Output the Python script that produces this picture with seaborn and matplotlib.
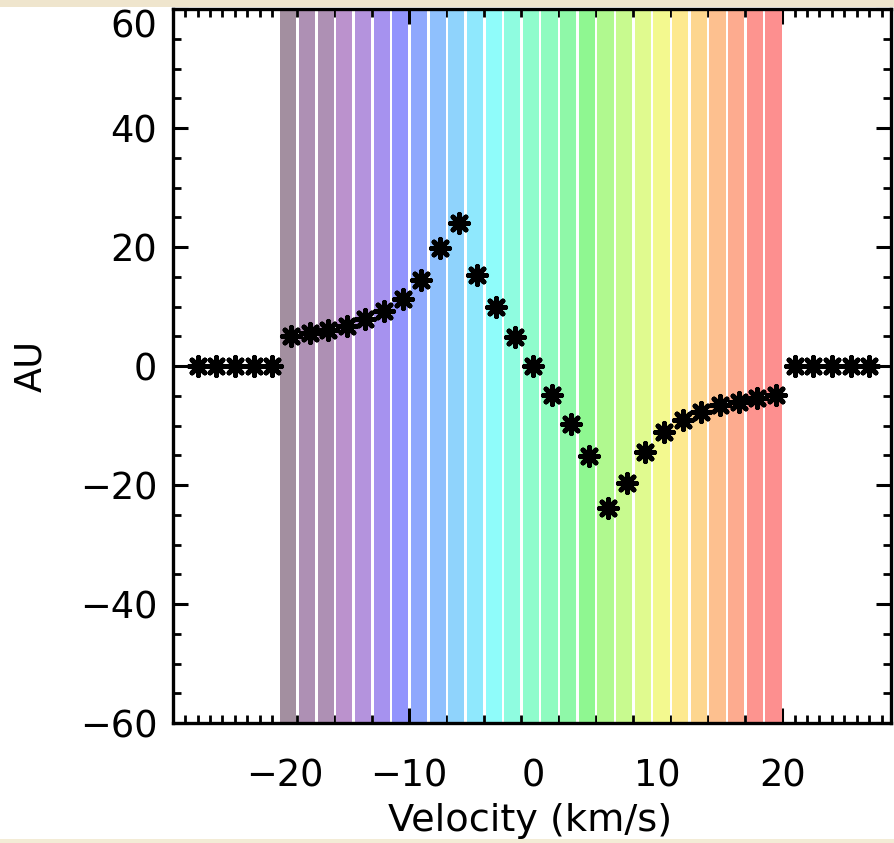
import numpy as np
import pandas as pd
import matplotlib
matplotlib.use("Agg")
import matplotlib.pyplot as plt
from matplotlib.ticker import MultipleLocator, FixedLocator
from matplotlib.patches import Rectangle
import seaborn as sns

# Channel velocities (km/s) and offsets (AU)
vel_outer_left = [-27.0, -25.5, -24.0, -22.5, -21.0]
vel_outer_right = [21.0, 22.5, 24.0, 25.5, 27.0]
vel_channels = [-19.5, -18.0, -16.5, -15.0, -13.5, -12.0, -10.5, -9.0, -7.5, -6.0,
                -4.5, -3.0, -1.5, 0.0, 1.5, 3.0, 4.5,
                6.0, 7.5, 9.0, 10.5, 12.0, 13.5, 15.0, 16.5, 18.0, 19.5]
au_channels = [5.0, 5.5, 6.0, 6.7, 7.9, 9.2, 11.3, 14.5, 19.8, 24.1,
               15.3, 10.0, 4.9, 0.0, -4.8, -9.8, -15.2,
               -23.9, -19.7, -14.4, -11.1, -9.0, -7.8, -6.6, -6.0, -5.3, -4.9]
au_outer = [0.0, 0.0, 0.0, 0.0, 0.0]

x_ticks = [-20, -10, 0, 10, 20]
y_ticks = [-60, -40, -20, 0, 20, 40, 60]

# Pale rainbow colours for the velocity channels
band_colors = ["#a38fa0", "#ae90b4", "#ae90b4", "#bb92cd", "#b493dd", "#a692ef",
               "#9294fd", "#8fa8fd", "#8fc0fd", "#8fd3fc", "#8fe8fd", "#8ffcfa",
               "#8ffce0", "#8ffccc", "#8ffbc0", "#8ff8a8", "#8ff791", "#b0f98f",
               "#c8fa8f", "#e0fa8f", "#f3f98f", "#fde98f", "#fdd68f", "#fdc08f",
               "#fdab8f", "#fd948f", "#fd8f8f"]

points = pd.DataFrame({
    "velocity": vel_outer_left + vel_channels + vel_outer_right,
    "au": au_outer + au_channels + au_outer,
})

sns.set_style("ticks")
plt.rcParams["font.family"] = ["DejaVu Sans"]
plt.rcParams["text.color"] = "black"
plt.rcParams["axes.labelcolor"] = "black"
plt.rcParams["xtick.color"] = "black"
plt.rcParams["ytick.color"] = "black"

W, H = 894, 843
fig = plt.figure(figsize=(W / 100, H / 100), dpi=100)
fig.patch.set_facecolor("white")

ax_l, ax_r, ax_t, ax_b = 172.7, 891.0, 9.0, 723.0
ax = fig.add_axes([ax_l / W, (H - ax_b) / H, (ax_r - ax_l) / W, (ax_b - ax_t) / H])

# Channel bands spanning the full height
ax.bar(np.array(vel_channels) - 0.2, height=120, bottom=-60, width=1.3,
       color=band_colors, linewidth=0, zorder=1)

sns.scatterplot(data=points, x="velocity", y="au", ax=ax,
                marker=(8, 2, 0), s=170, color="black", edgecolor="black",
                linewidth=3.6, zorder=3, legend=False)

ax.set_xlim(-29, 28.75)
ax.set_ylim(-60, 60)

ax.xaxis.set_major_locator(FixedLocator(x_ticks))
ax.yaxis.set_major_locator(FixedLocator(y_ticks))
ax.xaxis.set_minor_locator(MultipleLocator(1))
ax.yaxis.set_minor_locator(MultipleLocator(5))
ax.set_xticklabels([f"\u2212{abs(t)}" if t < 0 else str(t) for t in x_ticks])
ax.set_yticklabels([f"\u2212{abs(t)}" if t < 0 else str(t) for t in y_ticks])

ax.tick_params(axis="both", which="both", direction="in",
               top=True, right=True, bottom=True, left=True,
               color="black", labelcolor="black")
ax.tick_params(axis="both", which="major", length=11, width=2.2, labelsize=26.5)
ax.tick_params(axis="both", which="minor", length=5.5, width=2.0)
ax.tick_params(axis="x", which="major", pad=25)
ax.tick_params(axis="y", which="major", pad=11)

for lab in ax.get_yticklabels():
    if lab.get_text() == "60":
        lab.set_va("top")

for sp in ax.spines.values():
    sp.set_linewidth(2.4)
    sp.set_color("black")
    sp.set_zorder(5)

ax.set_xlabel("Velocity (km/s)", fontsize=27.5, color="black")
ax.set_ylabel("AU", fontsize=26.5, color="black")
ax.xaxis.set_label_coords(0.497, -0.112)
ax.yaxis.set_label_coords(-0.172, 0.5)

# Parchment strips along the top and bottom edges of the canvas
fig.patches.append(Rectangle((0, 1 - 7 / H), 1, 7 / H, transform=fig.transFigure,
                             facecolor="#efe5cd", edgecolor="none", zorder=0))
fig.patches.append(Rectangle((0, 0), 1, 4 / H, transform=fig.transFigure,
                             facecolor="#f3ecd6", edgecolor="none", zorder=0))

fig.savefig("out.png", dpi=100, facecolor=fig.get_facecolor())
